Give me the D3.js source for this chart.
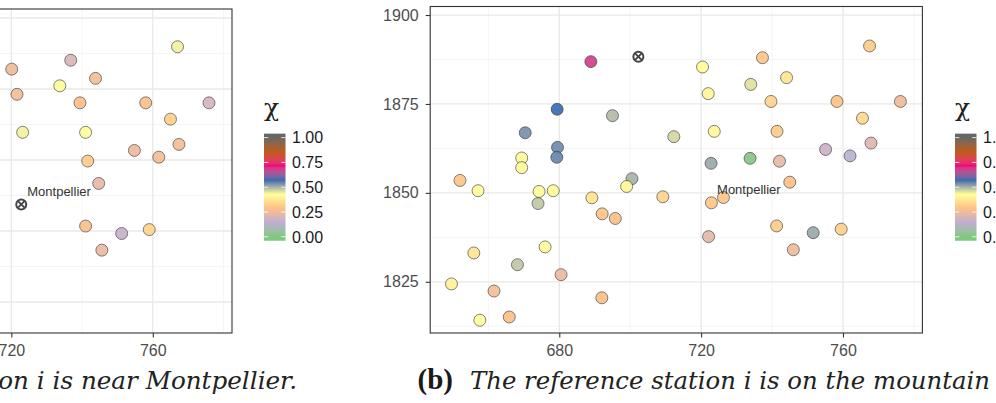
<!DOCTYPE html>
<html><head><meta charset="utf-8">
<script src="https://cdn.jsdelivr.net/npm/d3@7"></script>
<style>body{margin:0;background:#fff} svg{display:block}</style>
</head><body>
<svg id="chart" width="996" height="403"></svg>
<script>
// ---------- data ----------
const palette = ["#7FC97F","#BEAED4","#FDC086","#FFFF99","#386CB0","#F0027F","#BF5B17","#666666"];
const legendTicks = [0, 0.25, 0.5, 0.75, 1];
const xTicksMajor = [680, 720, 760];
const xTicksMinor = [660, 700, 740, 780];
const yTicksA = [1820, 1840, 1860, 1880, 1900];
const yMinorA = [1830, 1850, 1870, 1890];
const yTicksB = [1825, 1850, 1875, 1900];
const yMinorB = [1812.5, 1837.5, 1862.5, 1887.5];

const cityName = "Montpellier";
const cityLon = 722.8, cityLat = 1847.5;

// panel (a): reference station = Montpellier
const lonA = [720.1,736.8,743.8,733.7,721.6,739.4,758.0,775.9,767.0,765.0,723.2,741.0,767.4,754.8,761.7,741.6,744.7,741.0,751.2,759.0,745.6];
const latA = [1885.6,1888.1,1883.0,1880.9,1878.5,1876.1,1876.1,1876.1,1891.9,1871.5,1867.8,1867.8,1864.4,1862.7,1860.8,1859.7,1853.4,1841.4,1839.3,1840.4,1834.6];
const chiA = [0.25,0.20,0.26,0.43,0.26,0.28,0.28,0.19,0.44,0.32,0.44,0.43,0.26,0.24,0.26,0.31,0.23,0.28,0.16,0.33,0.24];
const refLonA = 722.8, refLatA = 1847.5;

// panel (b): reference station on the mountain
const lonB = [688.9,679.4,695.0,670.4,712.3,679.5,679.3,669.4,669.4,652.0,657.1,674.3,674.0,678.3,689.2,700.5,699.0,709.2,692.1,695.8,655.9,676.0,668.2,680.5,649.6,661.6,692.0,657.6,665.9,
  767.5,737.3,720.4,744.1,734.0,722.0,739.7,758.3,776.2,765.5,723.7,741.4,767.9,755.1,762.0,722.8,733.8,742.1,745.0,726.3,722.9,741.3,751.6,759.5,722.1,746.0];
const latB = [1886.9,1873.5,1871.7,1866.9,1865.8,1862.8,1860.0,1859.8,1857.1,1853.5,1850.6,1850.4,1847.0,1850.6,1848.6,1854.0,1851.8,1848.9,1844.1,1842.8,1833.1,1834.8,1829.8,1827.0,1824.4,1822.4,1820.5,1814.2,1815.1,
  1891.3,1888.0,1885.4,1882.4,1880.5,1877.9,1875.7,1875.7,1875.7,1871.0,1867.3,1867.3,1864.0,1862.2,1860.4,1858.3,1859.7,1858.9,1853.0,1848.7,1847.2,1840.7,1838.8,1839.8,1837.7,1834.0];
const chiB = [0.68,0.57,0.49,0.535,0.465,0.54,0.545,0.42,0.42,0.30,0.42,0.42,0.48,0.42,0.37,0.50,0.41,0.33,0.29,0.28,0.37,0.42,0.48,0.24,0.40,0.26,0.28,0.42,0.28,
  0.31,0.30,0.42,0.37,0.455,0.41,0.33,0.29,0.25,0.34,0.41,0.31,0.21,0.17,0.13,0.51,0.01,0.23,0.28,0.30,0.30,0.31,0.51,0.32,0.22,0.25];
const refLonB = 702.3, refLatB = 1888.3;

const captionA = ["(a)", "The reference station i is near Montpellier."];
const captionB = ["(b)", "The reference station i is on the mountain"];

// ---------- drawing ----------
const svg = d3.select("#chart");
const color = d3.scaleLinear()
  .domain(palette.map((c, i) => i / (palette.length - 1)))
  .range(palette).interpolate(d3.interpolateLab).clamp(true);

const defs = svg.append("defs");
const grad = defs.append("linearGradient").attr("id", "chiGrad")
  .attr("x1", 0).attr("y1", 1).attr("x2", 0).attr("y2", 0);
const barPad = 0.04;
d3.range(0, 61).forEach(i => {
  const t = i / 60;
  const v = -barPad + t * (1 + 2 * barPad);
  grad.append("stop").attr("offset", t).attr("stop-color", color(v));
});

const FONT = "'Liberation Sans', Arial, Helvetica, sans-serif";
const SERIF = "'DejaVu Serif', 'Liberation Serif', serif";

function drawPanel(cfg) {
  const g = svg.append("g");
  const x = cfg.x, y = cfg.y;
  const [xl, xr] = x.range();
  const [yb, yt] = y.range();
  g.append("rect").attr("x", xl).attr("y", yt).attr("width", xr - xl).attr("height", yb - yt).attr("fill", "#fff");
  // minor grid
  g.selectAll(".vxm").data(cfg.xMinor).join("line")
    .attr("x1", d => x(d)).attr("x2", d => x(d)).attr("y1", yt).attr("y2", yb)
    .attr("stroke", "#f1f1f1").attr("stroke-width", 0.7);
  g.selectAll(".vym").data(cfg.yMinor).join("line")
    .attr("y1", d => y(d)).attr("y2", d => y(d)).attr("x1", xl).attr("x2", xr)
    .attr("stroke", "#f1f1f1").attr("stroke-width", 0.7);
  // major grid
  g.selectAll(".vx").data(cfg.xMajor).join("line")
    .attr("x1", d => x(d)).attr("x2", d => x(d)).attr("y1", yt).attr("y2", yb)
    .attr("stroke", "#e8e8e8").attr("stroke-width", 1.3);
  g.selectAll(".vy").data(cfg.yMajor).join("line")
    .attr("y1", d => y(d)).attr("y2", d => y(d)).attr("x1", xl).attr("x2", xr)
    .attr("stroke", "#e8e8e8").attr("stroke-width", 1.3);

  // points
  const pts = cfg.lon.map((d, i) => ({lon: d, lat: cfg.lat[i], chi: cfg.chi[i]}));
  g.selectAll(".pt").data(pts).join("circle")
    .attr("cx", d => x(d.lon)).attr("cy", d => y(d.lat)).attr("r", 6)
    .attr("fill", d => color(d.chi)).attr("fill-opacity", 0.92)
    .attr("stroke", "#333").attr("stroke-width", 0.6);

  // reference station marker (circle with cross)
  const rx = x(cfg.refLon), ry = y(cfg.refLat);
  const mk = g.append("g").attr("transform", `translate(${rx},${ry})`);
  mk.append("circle").attr("r", 5).attr("fill", "#fff").attr("stroke", "#444").attr("stroke-width", 2);
  const c = 3.5;
  mk.append("path").attr("d", `M${-c},${-c}L${c},${c}M${-c},${c}L${c},${-c}`)
    .attr("stroke", "#444").attr("stroke-width", 1.9);

  // city label
  g.append("text").attr("x", x(cityLon) + 6).attr("y", y(cityLat) - 8)
    .attr("font-family", FONT).attr("font-size", 13).attr("fill", "#333").text(cityName);

  // border
  g.append("rect").attr("x", xl).attr("y", yt).attr("width", xr - xl).attr("height", yb - yt)
    .attr("fill", "none").attr("stroke", "#333").attr("stroke-width", 1.1);

  // axes
  const ax = g.append("g").attr("transform", `translate(0,${yb})`)
    .call(d3.axisBottom(x).tickValues(cfg.xMajor).tickSize(4.5).tickPadding(7.5).tickFormat(d3.format("d")));
  const ay = g.append("g").attr("transform", `translate(${xl},0)`)
    .call(d3.axisLeft(y).tickValues(cfg.yMajor).tickSize(4.5).tickPadding(7).tickFormat(d3.format("d")));
  [ax, ay].forEach(a => {
    a.select(".domain").remove();
    a.selectAll(".tick line").attr("stroke", "#333").attr("stroke-width", 1.1);
    a.selectAll(".tick text").attr("font-family", FONT).attr("font-size", 16).attr("fill", "#4d4d4d");
  });

  // legend
  const lx = cfg.legendX;
  const ly = d3.scaleLinear().domain([0, 1]).range([236.8, 137.6]);
  const barTop = ly(1 + barPad), barBot = ly(-barPad), bw = 21.5;
  const lg = g.append("g");
  lg.append("text").attr("x", lx).attr("y", 116)
    .attr("font-family", SERIF).attr("font-size", 25).attr("fill", "#222").text("\u03C7");
  lg.append("rect").attr("x", lx).attr("y", barTop).attr("width", bw).attr("height", barBot - barTop)
    .attr("fill", "url(#chiGrad)");
  legendTicks.forEach(v => {
    lg.append("line").attr("x1", lx).attr("x2", lx + bw * 0.2).attr("y1", ly(v)).attr("y2", ly(v))
      .attr("stroke", "#fff").attr("stroke-width", 1).attr("opacity", 0.8);
    lg.append("line").attr("x1", lx + bw * 0.8).attr("x2", lx + bw).attr("y1", ly(v)).attr("y2", ly(v))
      .attr("stroke", "#fff").attr("stroke-width", 1).attr("opacity", 0.8);
  });
  lg.selectAll(".ll").data(legendTicks).join("text")
    .attr("x", lx + 28).attr("y", d => ly(d)).attr("dy", "0.36em")
    .attr("font-family", FONT).attr("font-size", 16).attr("fill", "#1a1a1a")
    .text(d => d3.format(".2f")(d));
}

const xDomain = [643.6, 782.4];
drawPanel({
  x: d3.scaleLinear().domain(xDomain).range([-258.8, 232]),
  y: d3.scaleLinear().domain([1811.27, 1902.54]).range([333, 9]),
  xMajor: xTicksMajor, xMinor: xTicksMinor, yMajor: yTicksA, yMinor: yMinorA,
  lon: lonA, lat: latA, chi: chiA, refLon: refLonA, refLat: refLatA, legendX: 264
});
drawPanel({
  x: d3.scaleLinear().domain(xDomain).range([430.2, 922.4]),
  y: d3.scaleLinear().domain([1810.6, 1902.4]).range([333, 6.5]),
  xMajor: xTicksMajor, xMinor: xTicksMinor, yMajor: yTicksB, yMinor: yMinorB,
  lon: lonB, lat: latB, chi: chiB, refLon: refLonB, refLat: refLatB, legendX: 955
});

// captions
function caption(lab, txt, xStart, len) {
  svg.append("text").attr("x", xStart - 17).attr("y", 389).attr("text-anchor", "end")
    .attr("font-family", "'Liberation Serif', serif").attr("font-weight", "bold").attr("font-size", 29).attr("fill", "#1a1a1a").text(lab);
  svg.append("text").attr("x", xStart).attr("y", 389)
    .attr("font-family", SERIF).attr("font-style", "italic").attr("font-size", 25).attr("fill", "#222")
    .attr("textLength", len).attr("lengthAdjust", "spacingAndGlyphs").text(txt);
}
caption(captionA[0], captionA[1], -240, 537);
caption(captionB[0], captionB[1], 470, 520);
</script>
</body></html>
